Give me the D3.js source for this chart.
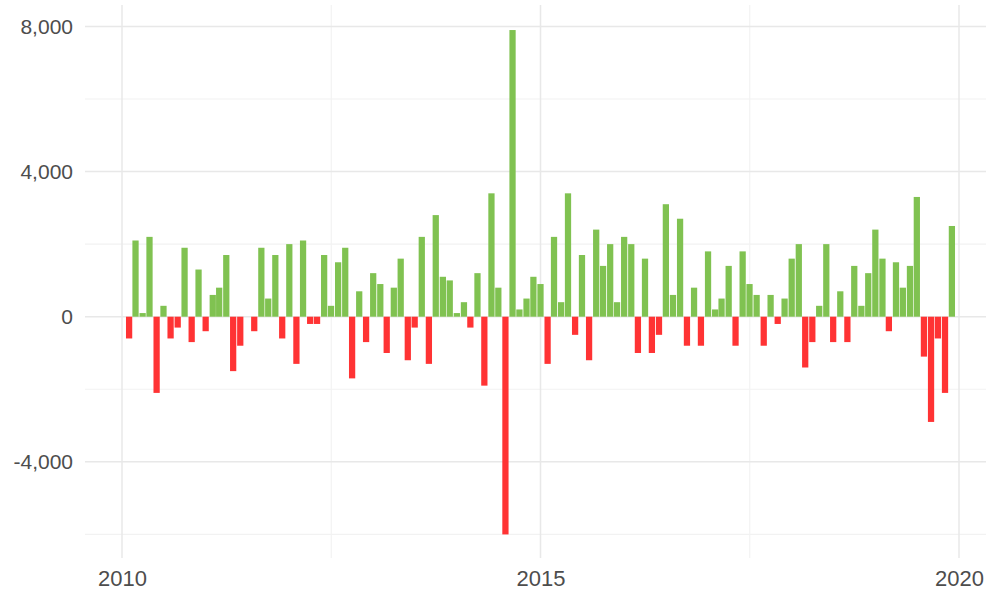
<!DOCTYPE html>
<html>
<head>
<meta charset="utf-8">
<script src="https://cdn.jsdelivr.net/npm/d3@7"></script>
<style>
  body { margin: 0; background: #fff; }
  text { font-family: "Liberation Sans", Arial, sans-serif; fill: #4d4d4d; }
</style>
</head>
<body>
<div id="chart"></div>
<script>
// monthly net values, Feb 2010 .. Dec 2019
var firstMonth = new Date(2010, 1, 1);
var lastMonth  = new Date(2019, 11, 1);
var values = [
  -600, 2100, 100, 2200, -2100, 300, -600, -300, 1900, -700, 1300,          // 2010 (Feb-Dec)
  -400, 600, 800, 1700, -1500, -800, 0, -400, 1900, 500, 1700, -600,          // 2011
  2000, -1300, 2100, -200, -200, 1700, 300, 1500, 1900, -1700, 700, -700,     // 2012
  1200, 900, -1000, 800, 1600, -1200, -300, 2200, -1300, 2800, 1100, 1000,    // 2013
  100, 400, -300, 1200, -1900, 3400, 800, -6000, 7900, 200, 500, 1100,        // 2014
  900, -1300, 2200, 400, 3400, -500, 1700, -1200, 2400, 1400, 2000, 400,      // 2015
  2200, 2000, -1000, 1600, -1000, -500, 3100, 600, 2700, -800, 800, -800,     // 2016
  1800, 200, 500, 1400, -800, 1800, 900, 600, -800, 600, -200, 500,           // 2017
  1600, 2000, -1400, -700, 300, 2000, -700, 700, -700, 1400, 300, 1200,       // 2018
  2400, 1600, -400, 1500, 800, 1400, 3300, -1100, -2900, -600, -2100, 2500    // 2019
];
var yearTicks  = [2010, 2015, 2020];
var yMajor     = [-4000, 0, 4000, 8000];
var yMinor     = [-6000, -2000, 2000, 6000];

var months = d3.timeMonth.range(firstMonth, d3.timeMonth.offset(lastMonth, 1));
var data = months.map(function(d, i) { return { date: d, value: values[i] }; });

var width = 986, height = 592;
var plot = { left: 85, right: 986, top: 5, bottom: 558 };

var svg = d3.select("#chart").append("svg")
  .attr("width", width)
  .attr("height", height);

var x = d3.scaleTime()
  .domain([new Date(2010, 0, 1), new Date(2020, 0, 1)])
  .range([122, 959]);

var y = d3.scaleLinear()
  .domain([-6650, 8590])
  .range([plot.bottom, plot.top]);

// gridlines
var grid = svg.append("g");
grid.selectAll(".hminor").data(yMinor).enter().append("line")
  .attr("x1", plot.left).attr("x2", plot.right)
  .attr("y1", function(d) { return y(d); }).attr("y2", function(d) { return y(d); })
  .style("stroke", "#f2f2f2").style("stroke-width", 1.2);
var xMinor = yearTicks.slice(1).map(function(yr) { return new Date(yr - 3, 6, 2); });
grid.selectAll(".vminor").data(xMinor).enter().append("line")
  .attr("y1", plot.top).attr("y2", plot.bottom)
  .attr("x1", function(d) { return x(d); }).attr("x2", function(d) { return x(d); })
  .style("stroke", "#f2f2f2").style("stroke-width", 1.2);
grid.selectAll(".hmajor").data(yMajor).enter().append("line")
  .attr("x1", plot.left).attr("x2", plot.right)
  .attr("y1", function(d) { return y(d); }).attr("y2", function(d) { return y(d); })
  .style("stroke", "#e8e8e8").style("stroke-width", 1.5);
grid.selectAll(".vmajor").data(yearTicks).enter().append("line")
  .attr("y1", plot.top).attr("y2", plot.bottom)
  .attr("x1", function(d) { return x(new Date(d, 0, 1)); }).attr("x2", function(d) { return x(new Date(d, 0, 1)); })
  .style("stroke", "#e8e8e8").style("stroke-width", 1.5);

// bars
var bw = (x(new Date(2015, 1, 1)) - x(new Date(2015, 0, 1))) * 0.88;
svg.append("g").selectAll("rect").data(data).enter().append("rect")
  .attr("x", function(d) { return x(d.date) - bw / 2; })
  .attr("width", bw)
  .attr("y", function(d) { return y(Math.max(0, d.value)); })
  .attr("height", function(d) { return Math.abs(y(d.value) - y(0)); })
  .attr("fill", function(d) { return d.value >= 0 ? "#80c251" : "#ff3334"; });

// y labels (plain hyphen for negatives, as in the original)
var fmt = d3.format(",");
var yAxis = d3.axisLeft(y).tickValues(yMajor).tickSize(0).tickPadding(12)
  .tickFormat(function(d) { return fmt(d).replace("\u2212", "-"); });
svg.append("g")
  .attr("transform", "translate(" + plot.left + ",0)")
  .call(yAxis)
  .call(function(g) { g.select(".domain").remove(); })
  .selectAll("text")
  .style("font-size", "21px")
  .style("fill", "#4d4d4d")
  .style("font-family", "'Liberation Sans', Arial, sans-serif");

// x labels
var xAxis = d3.axisBottom(x)
  .tickValues(yearTicks.map(function(yr) { return new Date(yr, 0, 1); }))
  .tickSize(0).tickPadding(12)
  .tickFormat(d3.timeFormat("%Y"));
svg.append("g")
  .attr("transform", "translate(0," + plot.bottom + ")")
  .call(xAxis)
  .call(function(g) { g.select(".domain").remove(); })
  .selectAll("text")
  .style("font-size", "22px")
  .style("fill", "#4d4d4d")
  .style("font-family", "'Liberation Sans', Arial, sans-serif");
</script>
</body>
</html>
